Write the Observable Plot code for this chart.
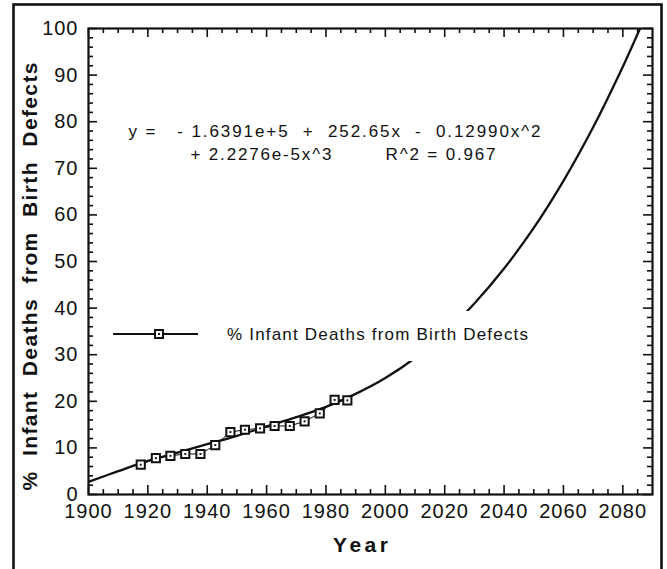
<!DOCTYPE html>
<html><head><meta charset="utf-8">
<script src="https://cdn.jsdelivr.net/npm/d3@7"></script>
<script src="https://cdn.jsdelivr.net/npm/@observablehq/plot@0.6"></script>
<style>
body{margin:0;background:#fff;}
svg text{white-space:pre;}
g[aria-label="x-axis tick label"] text{letter-spacing:1px;}
g[aria-label="y-axis tick label"] text{letter-spacing:1px;}
</style></head><body><div id="chart"></div>
<script>
const obsYears  = [1917.6,1922.7,1927.6,1932.6,1937.7,1942.7,1947.8,1952.7,1957.8,1962.7,1967.8,1972.8,1977.9,1982.9,1987.2];
const obsValues = [6.4,7.8,8.3,8.7,8.7,10.6,13.4,13.9,14.2,14.7,14.7,15.7,17.4,20.3,20.2];
// Fitted cubic curve
const fitYears  = [1900,1910,1920,1930,1940,1950,1960,1970,1980,1990,2000,2010,2020,2030,2040,2050,2060,2070,2080,2086];
const fitValues = [2.7,5.0,7.2,9.0,10.8,12.6,14.6,16.6,18.8,21.6,25.0,29.3,34.6,41.0,48.5,57.2,67.3,78.8,91.8,100.3];
// Ticks
const xMajor = d3.range(1900, 2081, 20);
const xMinor = d3.range(1905, 2090, 5).filter(d => d % 20 !== 0);
const yMajor = d3.range(0, 101, 10);
const yMinor = d3.range(2, 100, 2).filter(d => d % 10 !== 0);
const xTitle = "Year";
const yTitle = "%  Infant  Deaths  from  Birth  Defects";
const eqLine1 = "y =   - 1.6391e+5  +  252.65x  -  0.12990x^2";
const eqLine2 = "+ 2.2276e-5x^3        R^2 = 0.967";
const legendLabel = "% Infant Deaths from Birth Defects";

const obs = obsYears.map((x, i) => ({x, y: obsValues[i]}));
const fit = fitYears.map((x, i) => ({x, y: fitValues[i]}));

const W = 667, H = 569, mL = 88, mR = 15, mT = 28, mB = 75;
const innerW = W - mL - mR, innerH = H - mT - mB;
const ink = "#111";
const font = "'Liberation Sans', Arial, Helvetica, sans-serif";

const plot = Plot.plot({
  width: W, height: H,
  marginLeft: mL, marginRight: mR, marginTop: mT, marginBottom: mB,
  x: {domain: [1900, 2090], label: null},
  y: {domain: [0, 100], label: null},
  style: {fontFamily: font, fontSize: "20px", color: ink, background: "#fff", overflow: "visible"},
  marks: [
    Plot.line(fit, {x: "x", y: "y", stroke: ink, strokeWidth: 2.3, curve: "catmull-rom", clip: true}),
    Plot.line(obs, {x: "x", y: "y", stroke: ink, strokeWidth: 1}),
    Plot.dot(obs, {x: "x", y: "y", symbol: "square", r: 4.6, fill: "white", stroke: ink, strokeWidth: 2}),
    Plot.dot(obs, {x: "x", y: "y", symbol: "square", r: 1.1, fill: ink}),
    // inward ticks on all four sides
    Plot.ruleX(xMajor, {x: d => d, insetTop: innerH - 9, stroke: ink, strokeWidth: 1.6}),
    Plot.ruleX(xMinor, {x: d => d, insetTop: innerH - 5, stroke: ink, strokeWidth: 1.6}),
    Plot.ruleX(xMajor, {x: d => d, insetBottom: innerH - 9, stroke: ink, strokeWidth: 1.6}),
    Plot.ruleX(xMinor, {x: d => d, insetBottom: innerH - 5, stroke: ink, strokeWidth: 1.6}),
    Plot.ruleY(yMajor, {y: d => d, insetRight: innerW - 9, stroke: ink, strokeWidth: 1.6}),
    Plot.ruleY(yMinor, {y: d => d, insetRight: innerW - 5, stroke: ink, strokeWidth: 1.6}),
    Plot.ruleY(yMajor, {y: d => d, insetLeft: innerW - 9, stroke: ink, strokeWidth: 1.6}),
    Plot.ruleY(yMinor, {y: d => d, insetLeft: innerW - 5, stroke: ink, strokeWidth: 1.6}),
    Plot.frame({stroke: ink, strokeWidth: 2.2}),
    Plot.axisX(xMajor, {tickSize: 0, tickPadding: 9, tickFormat: d => String(d), fontSize: 20, label: null}),
    Plot.axisY(yMajor, {tickSize: 0, tickPadding: 10, tickFormat: d => String(d), fontSize: 20, label: null}),
    Plot.text([xTitle], {frameAnchor: "bottom", dx: -10, dy: 51, lineAnchor: "middle", textAnchor: "middle", text: d => d, fontWeight: "bold", fontSize: 21}),
    Plot.text([yTitle], {frameAnchor: "left", dx: -58, dy: 15, rotate: -90, lineAnchor: "middle", textAnchor: "middle", text: d => d, fontWeight: "bold", fontSize: 21}),
    Plot.text([eqLine1], {frameAnchor: "top-left", dx: 40, dy: 103, lineAnchor: "middle", text: d => d, textAnchor: "start", fontSize: 17}),
    Plot.text([eqLine2], {frameAnchor: "top-left", dx: 102, dy: 126, lineAnchor: "middle", text: d => d, textAnchor: "start", fontSize: 17})
  ]
});

const svg = d3.select(plot);
function fitText(content, len) {
  svg.selectAll("text").filter(function() { return this.textContent === content; })
    .attr("textLength", len).attr("lengthAdjust", "spacing");
}
fitText(yTitle, 428);
fitText(xTitle, 55);
fitText(eqLine1, 412);
fitText(eqLine2, 305);

// outer border
svg.insert("rect", ":first-child")
  .attr("x", 13.5).attr("y", 4.5).attr("width", 648).attr("height", 640)
  .attr("fill", "none").attr("stroke", ink).attr("stroke-width", 2.6);

// legend
const lg = svg.append("g");
lg.append("rect").attr("x", 104).attr("y", 311).attr("width", 440).attr("height", 50).attr("fill", "white");
lg.append("line").attr("x1", 113).attr("x2", 198).attr("y1", 334).attr("y2", 334).attr("stroke", ink).attr("stroke-width", 2);
lg.append("rect").attr("x", 155).attr("y", 330).attr("width", 8).attr("height", 8).attr("fill", "white").attr("stroke", ink).attr("stroke-width", 2);
lg.append("rect").attr("x", 158).attr("y", 333).attr("width", 2).attr("height", 2).attr("fill", ink);
lg.append("text").attr("x", 227).attr("y", 334).attr("dy", "0.35em")
  .attr("text-anchor", "start")
  .attr("font-family", font).attr("font-size", 17).attr("fill", ink)
  .attr("textLength", 301).attr("lengthAdjust", "spacing")
  .text(legendLabel);

document.getElementById("chart").appendChild(plot);
</script></body></html>
